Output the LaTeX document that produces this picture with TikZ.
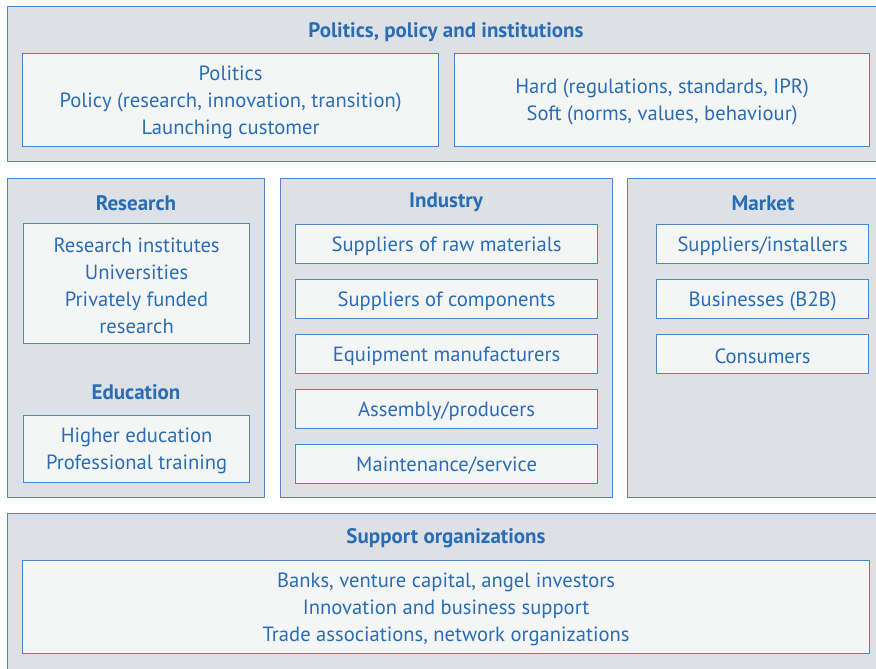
\documentclass[tikz,border=0pt]{standalone}
\usepackage{fontspec}
\setmainfont{PT Sans}
\definecolor{panelfill}{HTML}{DDE1E5}
\definecolor{boxfill}{HTML}{F4F6F6}
\definecolor{lineblue}{HTML}{4F86C6}
\definecolor{textblue}{HTML}{2A6DB4}
\tikzset{
  panel/.style={draw=lineblue, fill=panelfill, line width=1.2pt, anchor=north west, inner sep=0pt},
  itembox/.style={draw=lineblue, fill=boxfill, line width=1.2pt, anchor=north west, inner sep=0pt},
  heading/.style={text=textblue, font=\fontsize{21}{27}\selectfont\bfseries},
  itemtext/.style={text=textblue, font=\fontsize{20.6}{27}\selectfont, align=center, yshift=-2pt}
}
\begin{document}
\begin{tikzpicture}[x=1pt, y=-1pt]
  \useasboundingbox (0,0) rectangle (876,669);
  % panels
  \node[panel, minimum width=880pt, minimum height=155pt] (politics) at (7,6) {};
  \node[panel, minimum width=257pt, minimum height=319pt] (research) at (7,178) {};
  \node[panel, minimum width=332pt, minimum height=319pt] (industry) at (280,178) {};
  \node[panel, minimum width=260pt, minimum height=319pt] (market) at (627,178) {};
  \node[panel, minimum width=880pt, minimum height=170pt] (support) at (7,513) {};
  % politics
  \node[heading] (politicstitle) at (446,32) {Politics, policy and institutions};
  \node[itembox, minimum width=416pt, minimum height=93pt] (polbox) at (22,53) {};
  \node[itembox, minimum width=415pt, minimum height=93pt] (rulebox) at (454,53) {};
  \node[itemtext] at (polbox.center) {Politics\\Policy (research, innovation, transition)\\Launching customer};
  \node[itemtext] at (rulebox.center) {Hard (regulations, standards, IPR)\\Soft (norms, values, behaviour)};
  % research and education
  \node[heading] (researchtitle) at (136,203) {Research};
  \node[itembox, minimum width=226pt, minimum height=120pt] (resbox) at (23,223) {};
  \node[itemtext] at (resbox.center) {Research institutes\\Universities\\Privately funded\\research};
  \node[heading] (educationtitle) at (136,392) {Education};
  \node[itembox, minimum width=226pt, minimum height=67pt] (edubox) at (23,415) {};
  \node[itemtext] at (edubox.center) {Higher education\\Professional training};
  % industry
  \node[heading] (industrytitle) at (446,202) {Industry};
  \foreach \y/\name/\label in {224/raw/{Suppliers of raw materials}, 279/comp/{Suppliers of components},
      334/equip/{Equipment manufacturers}, 389/assembly/{Assembly/producers}, 444/maint/{Maintenance/service}} {
    \node[itembox, minimum width=302pt, minimum height=39pt] (\name) at (295,\y) {};
    \node[itemtext] at (\name.center) {\label};
  }
  % market
  \node[heading] (markettitle) at (763,203) {Market};
  \foreach \y/\name/\label in {224/installers/{Suppliers/installers}, 279/business/{Businesses (B2B)},
      334/consumers/{Consumers}} {
    \node[itembox, minimum width=212pt, minimum height=39pt] (\name) at (656,\y) {};
    \node[itemtext] at (\name.center) {\label};
  }
  % support organizations
  \node[heading] (supporttitle) at (446,538) {Support organizations};
  \node[itembox, minimum width=847pt, minimum height=93pt] (supbox) at (22,560) {};
  \node[itemtext] at (supbox.center) {Banks, venture capital, angel investors\\Innovation and business support\\Trade associations, network organizations};
\end{tikzpicture}
\end{document}
